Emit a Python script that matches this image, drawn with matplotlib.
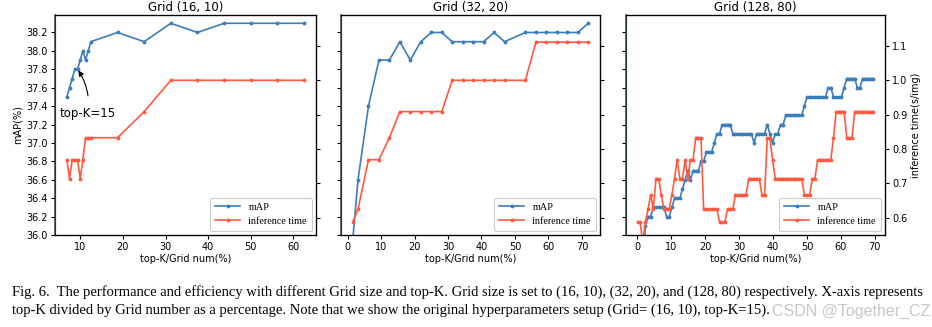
import numpy as np
import matplotlib
matplotlib.use('Agg')
import matplotlib.pyplot as plt

# ---------------- data ----------------
titles = ['Grid (16, 10)', 'Grid (32, 20)', 'Grid (128, 80)']
grid_nums = [160, 640, 10240]

topk_16x10 = [11, 12, 13, 14, 15, 16, 17, 18, 19, 20, 30, 40, 50, 60, 70, 80, 90, 100]
map_16x10 = [37.5, 37.6, 37.7, 37.8, 37.8, 37.9, 38.0, 37.9, 38.0, 38.1,
             38.2, 38.1, 38.3, 38.2, 38.3, 38.3, 38.3, 38.3]
time_16x10 = [0.769, 0.714, 0.769, 0.769, 0.769, 0.714, 0.769, 0.833, 0.833, 0.833,
              0.833, 0.909, 1.0, 1.0, 1.0, 1.0, 1.0, 1.0]

topk_32x20 = [10, 20, 40, 60, 80, 100, 120, 140, 160, 180, 200, 220, 240, 260, 280,
              300, 340, 360, 380, 400, 420, 440, 460]
map_32x20 = [35.95, 36.6, 37.4, 37.9, 37.9, 38.1, 37.9, 38.1, 38.2, 38.2, 38.1, 38.1,
             38.1, 38.1, 38.2, 38.1, 38.2, 38.2, 38.2, 38.2, 38.2, 38.2, 38.3]
time_32x20 = [0.588, 0.625, 0.769, 0.769, 0.833, 0.909, 0.909, 0.909, 0.909, 0.909,
              1.0, 1.0, 1.0, 1.0, 1.0, 1.0, 1.0, 1.111, 1.111, 1.111, 1.111, 1.111, 1.111]

topk_128x80 = [10, 80, 160, 240, 320, 400, 480, 560, 640, 720, 800, 880, 960, 1040,
               1120, 1200, 1280, 1360, 1440, 1520, 1600, 1680, 1760, 1840, 1920, 2000,
               2080, 2160, 2240, 2320, 2400, 2480, 2560, 2640, 2720, 2800, 2880, 2960,
               3040, 3120, 3200, 3280, 3360, 3440, 3520, 3600, 3680, 3760, 3840, 3920,
               4000, 4080, 4160, 4240, 4320, 4400, 4480, 4560, 4640, 4720, 4800, 4880,
               4960, 5040, 5120, 5200, 5280, 5360, 5440, 5520, 5600, 5680, 5760, 5840,
               5920, 6000, 6080, 6160, 6240, 6320, 6400, 6480, 6560, 6640, 6720, 6800,
               6880, 6960, 7040, 7120]
map_128x80 = [35.3, 35.5, 35.6, 36.1, 36.2, 36.2, 36.3, 36.3, 36.3, 36.3,
              36.3, 36.2, 36.2, 36.3, 36.4, 36.4, 36.4, 36.5, 36.6, 36.7,
              36.6, 36.7, 36.7, 36.7, 36.8, 36.8, 36.9, 36.9, 36.9, 37.0,
              37.1, 37.1, 37.2, 37.2, 37.2, 37.2, 37.1, 37.1, 37.1, 37.1,
              37.1, 37.1, 37.1, 37.1, 37.0, 37.1, 37.1, 37.1, 37.1, 37.2,
              37.1, 37.0, 37.1, 37.1, 37.2, 37.2, 37.3, 37.3, 37.3, 37.3,
              37.3, 37.3, 37.3, 37.4, 37.5, 37.5, 37.5, 37.5, 37.5, 37.5,
              37.5, 37.5, 37.6, 37.6, 37.5, 37.5, 37.5, 37.5, 37.6, 37.7,
              37.7, 37.7, 37.7, 37.6, 37.6, 37.7, 37.7, 37.7, 37.7, 37.7]
time_128x80 = [0.588, 0.588, 0.53, 0.588, 0.625, 0.667, 0.625, 0.714, 0.714, 0.667,
               0.625, 0.625, 0.625, 0.667, 0.714, 0.769, 0.714, 0.714, 0.769, 0.714,
               0.769, 0.769, 0.833, 0.833, 0.833, 0.625, 0.625, 0.625, 0.625, 0.625,
               0.625, 0.588, 0.588, 0.588, 0.625, 0.625, 0.625, 0.667, 0.667, 0.667,
               0.667, 0.667, 0.714, 0.714, 0.714, 0.714, 0.714, 0.667, 0.667, 0.833,
               0.833, 0.769, 0.714, 0.714, 0.714, 0.714, 0.714, 0.714, 0.714, 0.714,
               0.714, 0.714, 0.714, 0.667, 0.667, 0.667, 0.714, 0.714, 0.769, 0.769,
               0.769, 0.769, 0.769, 0.769, 0.833, 0.909, 0.909, 0.909, 0.909, 0.833,
               0.833, 0.833, 0.909, 0.909, 0.909, 0.909, 0.909, 0.909, 0.909, 0.909]

topks = [topk_16x10, topk_32x20, topk_128x80]
maps = [map_16x10, map_32x20, map_128x80]
times = [time_16x10, time_32x20, time_128x80]

map_ticks = [36.0, 36.2, 36.4, 36.6, 36.8, 37.0, 37.2, 37.4, 37.6, 37.8, 38.0, 38.2]
time_ticks = [0.6, 0.7, 0.8, 0.9, 1.0, 1.1]

# ---------------- style ----------------
BLUE = '#3b7dbd'
RED = '#ff5a40'
W, H = 932, 327
plt.rcParams['font.family'] = ['DejaVu Sans']

fig = plt.figure(figsize=(W / 100, H / 100), dpi=100)
panels = [(55, 316), (341, 600), (626, 885)]
top_px, bot_px = 15, 235

for i, (l, r) in enumerate(panels):
    ax = fig.add_axes([l / W, 1 - bot_px / H, (r - l) / W, (bot_px - top_px) / H])
    ax2 = ax.twinx()
    x = [k / grid_nums[i] * 100 for k in topks[i]]
    h1, = ax.plot(x, maps[i], color=BLUE, lw=1.2, marker='.', ms=3.5)
    h2, = ax2.plot(x, times[i], color=RED, lw=1.2, marker='.', ms=3.5)
    ax.set_ylim(36.0, 38.39)
    ax2.set_ylim(0.55, 1.19)
    ax.set_yticks(map_ticks)
    ax2.set_yticks(time_ticks)
    ax.set_xticks(list(range(0 if i else 10, 71 if i else 61, 10)))
    ax.tick_params(labelsize=7, length=3, width=0.8, pad=2)
    ax2.tick_params(labelsize=7, length=3, width=0.8, pad=2)
    ax.set_title(titles[i], fontsize=8.5, pad=3)
    ax.set_xlabel('top-K/Grid num(%)', fontsize=7, labelpad=1.5)
    for sp in ax2.spines.values():
        sp.set_linewidth(0.9)
    ax2.spines['left'].set_color('#2e4a2e')
    ax2.spines['left'].set_linewidth(1.1)
    if i == 0:
        ax.set_yticklabels([f'{v:.1f}' for v in map_ticks])
        ax.set_ylabel('mAP(%)', fontsize=7, labelpad=3)
        ax.annotate('top-K=15', xy=(15 / 160 * 100, 37.8), xytext=(11.75, 37.32),
                    fontsize=8.5, ha='center', va='center',
                    arrowprops=dict(arrowstyle='-|>', connectionstyle='arc3,rad=0.2',
                                    color='black', lw=0.8, mutation_scale=8,
                                    shrinkA=6, shrinkB=1))
    else:
        ax.set_yticklabels([])
    if i == 2:
        ax2.set_yticklabels([f'{v:.1f}' for v in time_ticks])
        ax2.set_ylabel('inference time(s/img)', fontsize=7, labelpad=3)
    else:
        ax2.set_yticklabels([])
    leg = ax2.legend([h1, h2], ['mAP', 'inference time'], loc='lower right',
                     prop={'family': 'Liberation Serif', 'size': 7.3},
                     borderaxespad=0.4, handlelength=2.5, labelspacing=0.5,
                     borderpad=0.5, framealpha=1.0)
    leg.get_frame().set_edgecolor('#cccccc')
    leg.get_frame().set_linewidth(0.8)

# ---------------- caption ----------------
line1 = ('Fig. 6.  The performance and efficiency with different Grid size and top-K. '
         'Grid size is set to (16, 10), (32, 20), and (128, 80) respectively. X-axis represents')
line2 = ('top-K divided by Grid number as a percentage. Note that we show the original '
         'hyperparameters setup (Grid= (16, 10), top-K=15).')
t1 = fig.text(12 / W, 1 - 292 / H, line1, fontsize=9, family='Liberation Serif',
              ha='left', va='center')
t2 = fig.text(12 / W, 1 - 310 / H, line2, fontsize=9, family='Liberation Serif',
              ha='left', va='center')
fig.canvas.draw()
r = fig.canvas.get_renderer()
w1 = t1.get_window_extent(r).width
scale = 915 / w1
t1.set_fontsize(9 * scale)
t2.set_fontsize(9 * scale)

# watermark of the source image
fig.text(930 / W, 1 - 311 / H, 'CSDN @Together_CZ', fontsize=11.5,
         family='Liberation Sans', color='#c8c8c8', ha='right', va='center')

fig.savefig('out.png', dpi=100, facecolor='white')
